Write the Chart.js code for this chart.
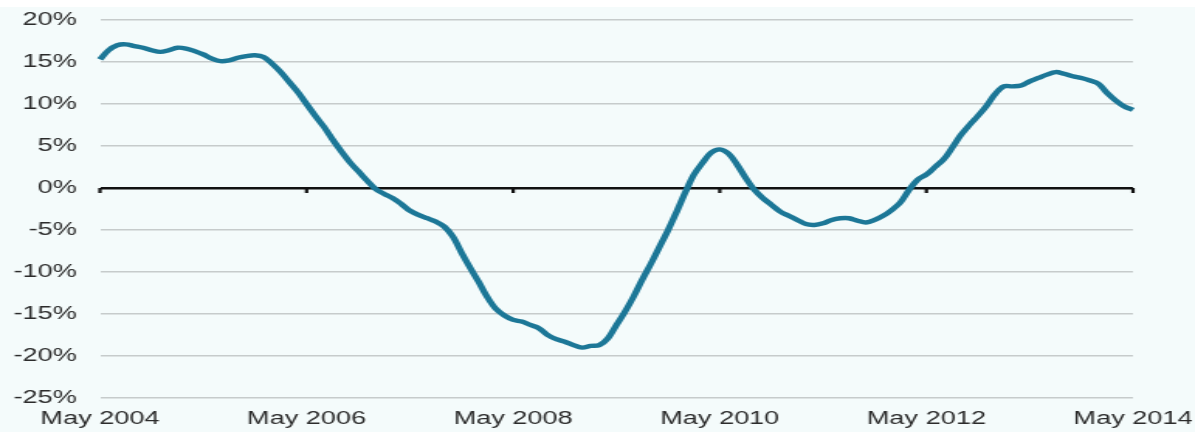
<!DOCTYPE html>
<html>
<head>
<meta charset="utf-8">
<script src="https://cdn.jsdelivr.net/npm/chart.js@4.4.1/dist/chart.umd.min.js"></script>
<style>
  html, body { margin: 0; padding: 0; background: #ffffff; overflow: hidden; }
  #wrap { width: 771px; height: 432px; transform: scaleX(1.5499); transform-origin: 0 0; }
  canvas { display: block; }
</style>
</head>
<body>
<div id="wrap"><canvas id="c" width="771" height="432"></canvas></div>
<script>
// Monthly labels, May 2004 to May 2014
const monthNames = ['Jan','Feb','Mar','Apr','May','Jun','Jul','Aug','Sep','Oct','Nov','Dec'];
const months = [];
for (let i = 0; i <= 120; i++) {
  const mi = (4 + i) % 12;
  const yr = 2004 + Math.floor((4 + i) / 12);
  months.push(monthNames[mi] + ' ' + yr);
}

// Annual change, % (one value per month)
const annualChange = [
  15.3, 16.4, 17.0, 17.1, 16.9, 16.7, 16.4, 16.2, 16.4, 16.7, 16.6, 16.3,
  15.9, 15.4, 15.1, 15.2, 15.5, 15.7, 15.8, 15.6, 14.8, 13.8, 12.6, 11.4,
  10.0, 8.6, 7.3, 5.8, 4.4, 3.1, 2.0, 0.9, -0.1, -0.7, -1.2, -1.9,
  -2.7, -3.2, -3.6, -4.0, -4.6, -5.8, -7.7, -9.5, -11.2, -13.0, -14.4, -15.2,
  -15.7, -15.9, -16.3, -16.7, -17.5, -18.0, -18.3, -18.7, -19.0, -18.8, -18.7, -17.9,
  -16.3, -14.7, -12.9, -10.9, -9.0, -7.0, -5.0, -2.8, -0.5, 1.6, 3.0, 4.2,
  4.6, 4.1, 2.8, 1.2, -0.2, -1.2, -2.0, -2.8, -3.3, -3.8, -4.3, -4.4,
  -4.2, -3.8, -3.6, -3.6, -3.9, -4.1, -3.8, -3.3, -2.6, -1.7, -0.2, 1.0,
  1.6, 2.5, 3.4, 4.8, 6.3, 7.5, 8.6, 9.8, 11.2, 12.1, 12.1, 12.2,
  12.7, 13.1, 13.5, 13.8, 13.6, 13.3, 13.1, 12.8, 12.4, 11.3, 10.4, 9.7,
  9.3
];

// Axis settings
const yMin = -25, yMax = 20, yStep = 5;
const labelEvery = 24;

const FONT = "'Liberation Sans', Arial, sans-serif";

// Pale page fill with a white band across the top edge
const backdrop = {
  id: 'backdrop',
  beforeDraw(chart) {
    const ctx = chart.ctx;
    ctx.save();
    ctx.fillStyle = '#ffffff';
    ctx.fillRect(0, 0, chart.width, 7);
    ctx.fillStyle = '#f4fbfb';
    ctx.fillRect(0, 7, chart.width, chart.height - 7);
    ctx.restore();
  }
};

// Small tick marks hanging from the zero line at each labelled month
const zeroTicks = {
  id: 'zeroTicks',
  beforeDatasetsDraw(chart) {
    const ctx = chart.ctx;
    const x = chart.scales.x, y = chart.scales.y;
    const y0 = y.getPixelForValue(0);
    ctx.save();
    ctx.strokeStyle = '#111111';
    ctx.lineWidth = 2.2;
    for (let i = 0; i < months.length; i += labelEvery) {
      const px = x.getPixelForValue(i);
      ctx.beginPath();
      ctx.moveTo(px, y0);
      ctx.lineTo(px, y0 + 5);
      ctx.stroke();
    }
    ctx.restore();
  }
};

new Chart(document.getElementById('c'), {
  type: 'line',
  data: {
    labels: months,
    datasets: [{
      data: annualChange,
      borderColor: '#1c7797',
      borderWidth: 4.4,
      pointRadius: 0,
      tension: 0.35,
      fill: false
    }]
  },
  options: {
    responsive: false,
    animation: false,
    events: [],
    layout: { padding: { top: 20, bottom: 0, left: 0, right: 0 } },
    plugins: { legend: { display: false }, tooltip: { enabled: false } },
    scales: {
      x: {
        type: 'category',
        offset: false,
        afterFit(scale) {
          scale.height = 34;
          scale.paddingLeft = 0;
          scale.paddingRight = 40;
        },
        grid: { display: false, drawTicks: false },
        border: { display: false },
        ticks: {
          autoSkip: false,
          maxRotation: 0,
          minRotation: 0,
          padding: 11,
          color: '#2b2b2b',
          font: { family: FONT, size: 17.5 },
          callback: (v, i) => (i % labelEvery === 0 ? months[i] : '')
        }
      },
      y: {
        min: yMin,
        max: yMax,
        afterFit(scale) {
          scale.width = 64.5;
          scale.paddingTop = 0;
          scale.paddingBottom = 0;
        },
        grid: {
          drawTicks: false,
          color: c => (c.tick && c.tick.value === 0 ? '#111111' : '#c6cbcb'),
          lineWidth: c => (c.tick && c.tick.value === 0 ? 2.6 : 1.6)
        },
        border: { display: false },
        ticks: {
          stepSize: yStep,
          padding: 15,
          color: '#2b2b2b',
          font: { family: FONT, size: 17.5 },
          callback: v => v + '%'
        }
      }
    }
  },
  plugins: [backdrop, zeroTicks]
});
</script>
</body>
</html>
